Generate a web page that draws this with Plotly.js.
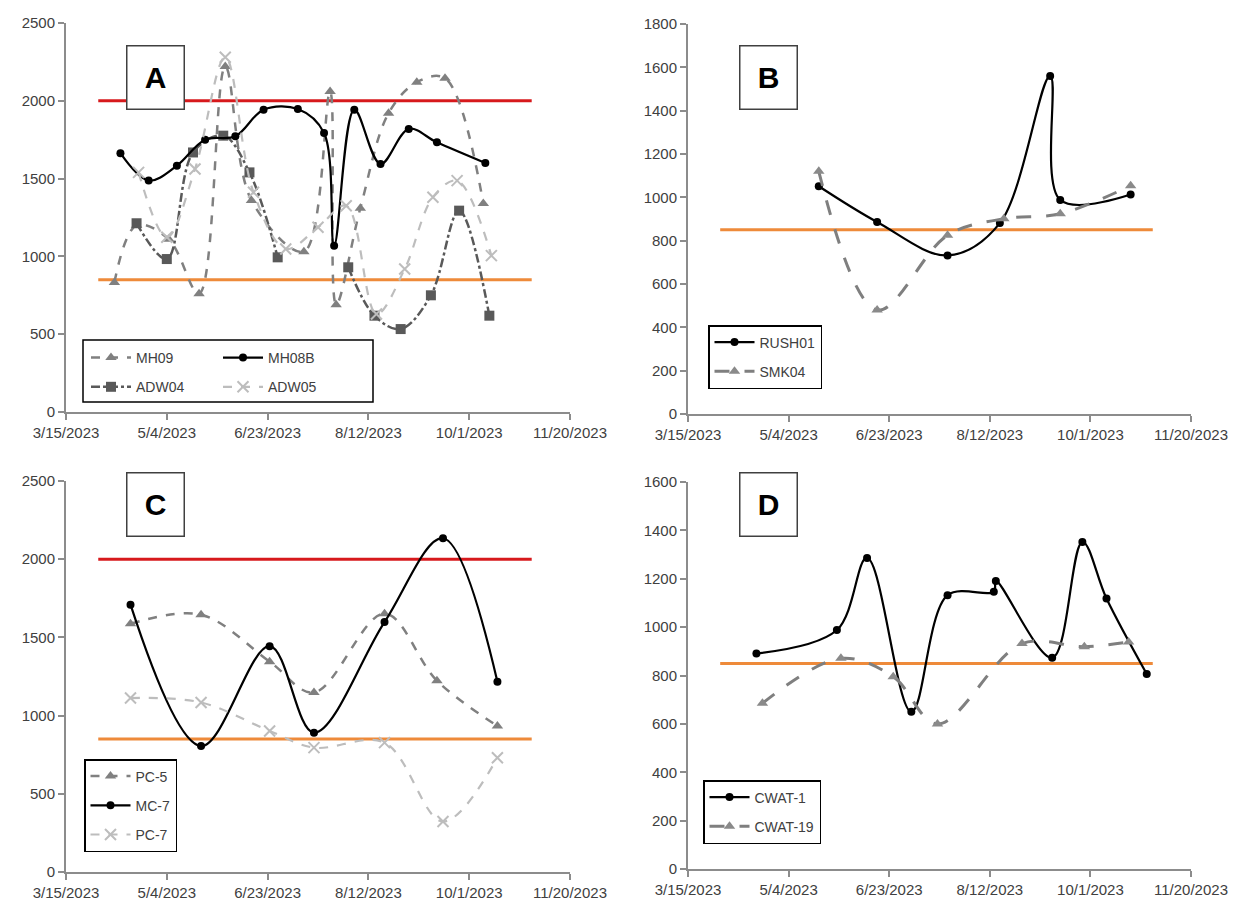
<!DOCTYPE html>
<html>
<head>
<meta charset="utf-8">
<script src="https://cdn.plot.ly/plotly-3.0.1.min.js"></script>
<style>html,body{margin:0;padding:0;background:#fff;}#chart{width:1239px;height:903px;}</style>
</head>
<body>
<div id="chart"></div>
<script>
// ---------- DATA ----------
const xTickVals = ['2023-03-15','2023-05-04','2023-06-23','2023-08-12','2023-10-01','2023-11-20'];
const xTickText = ['3/15/2023','5/4/2023','6/23/2023','8/12/2023','10/1/2023','11/20/2023'];
const limitDates = ['2023-03-31','2023-11-01'];
const upperLimit = [2000, 2000];
const lowerLimit = [850, 850];

// Panel A
const mh09Dates = ['2023-04-08','2023-04-19','2023-05-05','2023-05-20','2023-06-02','2023-06-15','2023-07-11','2023-07-24','2023-07-27','2023-08-08','2023-08-22','2023-09-05','2023-09-19','2023-10-08'];
const mh09Vals  = [833,1200,1110,760,2220,1360,1030,2060,690,1310,1920,2120,2145,1340];
const mh08bDates = ['2023-04-11','2023-04-25','2023-05-09','2023-05-23','2023-06-07','2023-06-21','2023-07-08','2023-07-21','2023-07-26','2023-08-05','2023-08-18','2023-09-01','2023-09-15','2023-10-09'];
const mh08bVals  = [1663,1487,1583,1750,1772,1943,1947,1793,1069,1943,1594,1819,1733,1600];
const adw04Dates = ['2023-04-19','2023-05-04','2023-05-17','2023-06-01','2023-06-14','2023-06-28','2023-07-15','2023-08-02','2023-08-15','2023-08-28','2023-09-12','2023-09-26','2023-10-11'];
const adw04Vals  = [1213,983,1668,1776,1540,994,null,930,619,533,750,1294,619];
const adw05Dates = ['2023-04-20','2023-05-04','2023-05-18','2023-06-02','2023-06-16','2023-07-02','2023-07-18','2023-08-01','2023-08-16','2023-08-30','2023-09-13','2023-09-25','2023-10-12'];
const adw05Vals  = [1540,1123,1562,2280,1412,1048,1187,1326,630,919,1380,1487,1005];

// Panel B
const rush01Dates = ['2023-05-19','2023-06-17','2023-07-22','2023-08-17','2023-09-11','2023-09-16','2023-10-21'];
const rush01Vals  = [1051,886,732,881,1560,988,1013];
const smk04Dates  = ['2023-05-19','2023-06-17','2023-07-22','2023-08-19','2023-09-16','2023-10-21'];
const smk04Vals   = [1120,480,825,901,924,1054];

// Panel C
const cDates = ['2023-04-16','2023-05-21','2023-06-24','2023-07-16','2023-08-20','2023-09-18','2023-10-15'];
const pc5Dates = ['2023-04-16','2023-05-21','2023-06-24','2023-07-16','2023-08-20','2023-09-15','2023-10-15'];
const pc5Vals  = [1587,1645,1345,1148,1652,1223,934];
const mc7Vals  = [1709,805,1444,891,1598,2134,1217];
const pc7Vals  = [1112,1084,902,795,827,323,731];

// Panel D
const cwat1Dates = ['2023-04-18','2023-05-28','2023-06-12','2023-07-04','2023-07-22','2023-08-14','2023-08-15','2023-09-12','2023-09-27','2023-10-09','2023-10-29'];
const cwat1Vals  = [891,988,1286,650,1132,1146,1191,873,1352,1118,806];
const cwat19Dates = ['2023-04-21','2023-05-30','2023-06-25','2023-07-17','2023-08-28','2023-09-28','2023-10-20'];
const cwat19Vals  = [685,871,795,600,932,919,939];

// ---------- STYLE ----------
const FONT = 'Liberation Sans, Arial, sans-serif';
const tickFont = {family: FONT, size: 15, color: '#404040'};
const legFont = {family: FONT, size: 14, color: '#404040'};

function xAxis(dom, anchor){
  return {domain: dom, anchor: anchor, type: 'date', range: ['2023-03-15','2023-11-20'],
    tickmode: 'array', tickvals: xTickVals, ticktext: xTickText,
    showgrid: false, zeroline: false, showline: true, linecolor: '#8c8c8c', linewidth: 2,
    ticks: 'outside', ticklen: 6, tickwidth: 2, tickcolor: '#8c8c8c', tickfont: tickFont, fixedrange: true};
}
function yAxis(dom, anchor, max, step){
  return {domain: dom, anchor: anchor, range: [0, max], dtick: step, tick0: 0,
    showgrid: false, zeroline: false, showline: true, linecolor: '#8c8c8c', linewidth: 2,
    ticks: 'outside', ticklen: 6, tickwidth: 2, tickcolor: '#8c8c8c', tickfont: tickFont, fixedrange: true};
}

const blackLine = {color: '#000000', width: 2.2, shape: 'spline'};
const blackMarker = {symbol: 'circle', size: 8, color: '#000000'};

function tr(x, y, name, xa, ya, leg, line, marker, grp){
  return {x: x, y: y, name: name, xaxis: xa, yaxis: ya, legend: leg, legendgroup: grp,
    type: 'scatter', mode: 'lines+markers', line: line, marker: marker, hoverinfo: 'skip', connectgaps: false};
}
function limit(vals, color, xa, ya){
  return {x: limitDates, y: vals, xaxis: xa, yaxis: ya, type: 'scatter', mode: 'lines',
    line: {color: color, width: 3}, showlegend: false, hoverinfo: 'skip'};
}
const RED = '#d7191c', ORANGE = '#ee8a3a';

const data = [
  limit(upperLimit, RED, 'x', 'y'),
  limit(lowerLimit, ORANGE, 'x', 'y'),
  tr(mh09Dates, mh09Vals, 'MH09', 'x', 'y', 'legend', {color: '#808080', width: 2.5, dash: 'dash', shape: 'spline'}, {symbol: 'triangle-up', size: 10, color: '#808080'}, 'a1'),
  tr(adw04Dates, adw04Vals, 'ADW04', 'x', 'y', 'legend', {color: '#595959', width: 2.5, dash: 'dashdot', shape: 'spline'}, {symbol: 'square', size: 10, color: '#595959'}, 'a2'),
  tr(mh08bDates, mh08bVals, 'MH08B', 'x', 'y', 'legend2', blackLine, blackMarker, 'a3'),
  tr(adw05Dates, adw05Vals, 'ADW05', 'x', 'y', 'legend2', {color: '#bdbdbd', width: 2.2, dash: 'dash', shape: 'spline'}, {symbol: 'x-thin-open', size: 11, line: {color: '#b0b0b0', width: 2}}, 'a4'),

  limit(lowerLimit, ORANGE, 'x2', 'y2'),
  tr(rush01Dates, rush01Vals, 'RUSH01', 'x2', 'y2', 'legend3', blackLine, blackMarker, 'b1'),
  tr(smk04Dates, smk04Vals, 'SMK04', 'x2', 'y2', 'legend3', {color: '#7f7f7f', width: 3, dash: 'longdash', shape: 'spline'}, {symbol: 'triangle-up', size: 10, color: '#8a8a8a'}, 'b2'),

  limit(upperLimit, RED, 'x3', 'y3'),
  limit(lowerLimit, ORANGE, 'x3', 'y3'),
  tr(pc5Dates, pc5Vals, 'PC-5', 'x3', 'y3', 'legend4', {color: '#808080', width: 2.5, dash: 'dash', shape: 'spline'}, {symbol: 'triangle-up', size: 10, color: '#808080'}, 'c1'),
  tr(cDates, mc7Vals, 'MC-7', 'x3', 'y3', 'legend4', blackLine, blackMarker, 'c2'),
  tr(cDates, pc7Vals, 'PC-7', 'x3', 'y3', 'legend4', {color: '#bdbdbd', width: 2.2, dash: 'dash', shape: 'spline'}, {symbol: 'x-thin-open', size: 11, line: {color: '#b0b0b0', width: 2}}, 'c3'),

  limit(lowerLimit, ORANGE, 'x4', 'y4'),
  tr(cwat1Dates, cwat1Vals, 'CWAT-1', 'x4', 'y4', 'legend5', blackLine, blackMarker, 'd1'),
  tr(cwat19Dates, cwat19Vals, 'CWAT-19', 'x4', 'y4', 'legend5', {color: '#7f7f7f', width: 3, dash: 'longdash', shape: 'spline'}, {symbol: 'triangle-up', size: 10, color: '#8a8a8a'}, 'd2')
];

const W = 1239, H = 903;
const px = v => v / W, py = v => 1 - v / H;

function legend(x, y, border){
  return {x: px(x), y: py(y), xanchor: 'left', yanchor: 'top', xref: 'paper', yref: 'paper',
    bgcolor: border ? '#ffffff' : 'rgba(0,0,0,0)', bordercolor: '#000000', borderwidth: border ? 1.5 : 0,
    font: legFont, traceorder: 'grouped', tracegroupgap: 8, itemwidth: 40};
}
function letter(t, cx, cy){
  return {text: t, x: px(cx), y: py(cy), xref: 'paper', yref: 'paper', showarrow: false,
    font: {family: FONT, size: 30, color: '#000000', weight: 'bold'},
    bordercolor: '#404040', borderwidth: 1.5, bgcolor: '#ffffff', width: 54, height: 60, borderpad: 1};
}

const layout = {
  width: W, height: H, margin: {l: 0, r: 0, t: 0, b: 0}, paper_bgcolor: '#ffffff', plot_bgcolor: 'rgba(0,0,0,0)',
  showlegend: true,
  xaxis: xAxis([px(66), px(570)], 'y'),
  yaxis: yAxis([py(412), py(23)], 'x', 2500, 500),
  xaxis2: xAxis([px(688), px(1191)], 'y2'),
  yaxis2: yAxis([py(414), py(24)], 'x2', 1800, 200),
  xaxis3: xAxis([px(66), px(570)], 'y3'),
  yaxis3: yAxis([py(872), py(481)], 'x3', 2500, 500),
  xaxis4: xAxis([px(688), px(1191)], 'y4'),
  yaxis4: yAxis([py(869), py(482)], 'x4', 1600, 200),
  legend: legend(86, 342, false),
  legend2: legend(218, 342, false),
  legend3: legend(708, 325, true),
  legend4: legend(84, 759, true),
  legend5: legend(703, 780, true),
  shapes: [
    {type: 'rect', xref: 'paper', yref: 'paper', x0: px(83), x1: px(373), y0: py(402), y1: py(340),
     line: {color: '#000000', width: 1.5}, fillcolor: 'rgba(255,255,255,0)', layer: 'above'}
  ],
  annotations: [letter('A', 126, 45), letter('B', 768, 45), letter('C', 126, 505), letter('D', 768, 505)]
};

Plotly.newPlot('chart', data, layout, {staticPlot: true, displayModeBar: false});
</script>
</body>
</html>
